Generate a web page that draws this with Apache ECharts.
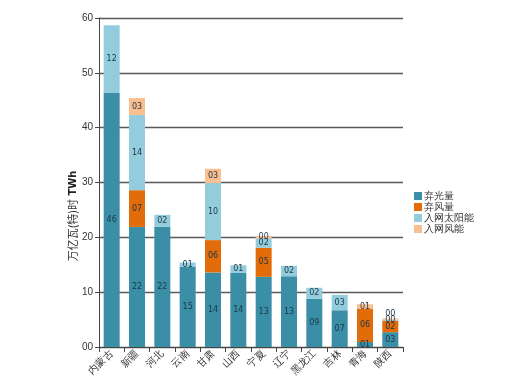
<!DOCTYPE html>
<html>
<head>
<meta charset="utf-8">
<script src="https://cdn.jsdelivr.net/npm/echarts@6/dist/echarts.min.js"></script>
<style>html,body{margin:0;padding:0;background:#fff;}#c{width:509px;height:380px;}</style>
</head>
<body>
<div id="c"></div>
<script>
var categories = ['内蒙古','新疆','河北','云南','甘肃','山西','宁夏','辽宁','黑龙江','吉林','青海','陕西'];
var solarCurtailed = [46.3, 21.9, 21.9, 14.6, 13.6, 13.5, 12.8, 12.9, 8.8, 6.7, 0.9, 2.7];
var windCurtailed  = [null, 6.7, null, null, 5.9, null, 5.3, null, null, null, 6.1, 2.1];
var solarGrid      = [12.4, 13.7, 2.2, 0.8, 10.4, 1.4, 1.7, 1.9, 2.0, 2.8, null, 0.2];
var windGrid       = [null, 3.1, null, null, 2.6, null, 0.4, null, null, null, 0.8, 0.2];
var seriesNames = ['弃光量','弃风量','入网太阳能','入网风能'];
var yTicks = [0, 10, 20, 30, 40, 50, 60];

function pad(v){ var s = String(Math.round(v)); return s.length < 2 ? '0' + s : s; }
var labelCfg = {
  show: true, position: 'inside', fontSize: 8, color: '#1d3646',
  fontFamily: 'DejaVu Sans',
  formatter: function(p){ return p.value == null ? '' : pad(p.value); }
};
var colors = ['#3a8fa6', '#e36c0a', '#93cddd', '#f9bf91'];
var dataSets = [solarCurtailed, windCurtailed, solarGrid, windGrid.map(function(v, i){
  return (i === categories.length - 1) ? {value: v, label: {position: 'top', distance: 1}} : v;
})];

var chart = echarts.init(document.getElementById('c'), null, {renderer: 'canvas'});
chart.setOption({
  animation: false,
  backgroundColor: '#fff',
  color: colors,
  grid: {left: 99, right: 106, top: 18, bottom: 33, containLabel: false},
  legend: {
    orient: 'vertical', left: 409, top: 186,
    icon: 'rect', itemWidth: 8, itemHeight: 8, itemGap: 1,
    textStyle: {fontSize: 10, color: '#333', lineHeight: 10, padding: [0,0,0,-3]},
    data: seriesNames
  },
  xAxis: {
    type: 'category', data: categories, boundaryGap: true,
    axisLine: {lineStyle: {color: '#444', width: 1}},
    axisTick: {show: true, length: 5, lineStyle: {color: '#444'}},
    axisLabel: {rotate: 45, fontSize: 10, color: '#333', margin: 5, interval: 0}
  },
  yAxis: {
    type: 'value', min: 0, max: 60, interval: 10,
    axisLine: {show: true, lineStyle: {color: '#444', width: 1}},
    axisTick: {show: true, length: 4, lineStyle: {color: '#444'}},
    axisLabel: {fontSize: 10, color: '#333', margin: 6, formatter: function(v){ return pad(v); }},
    splitLine: {show: true, lineStyle: {color: '#5a5a5a', width: 1.3}}
  },
  graphic: [{
    type: 'text', x: 73, y: 216, rotation: Math.PI / 2,
    style: {
      text: '{a|万亿瓦(特)时} {b|TWh}',
      align: 'center', verticalAlign: 'middle',
      rich: {
        a: {fontSize: 11, fill: '#333', fontFamily: 'Noto Sans CJK SC'},
        b: {fontSize: 10, fill: '#222', fontWeight: 'bold', fontFamily: 'DejaVu Sans'}
      }
    }
  }],
  series: seriesNames.map(function(n, i){
    return {
      name: n, type: 'bar', stack: 'total', data: dataSets[i],
      barWidth: 16, label: labelCfg,
      itemStyle: {color: colors[i]}
    };
  })
});
</script>
</body>
</html>
